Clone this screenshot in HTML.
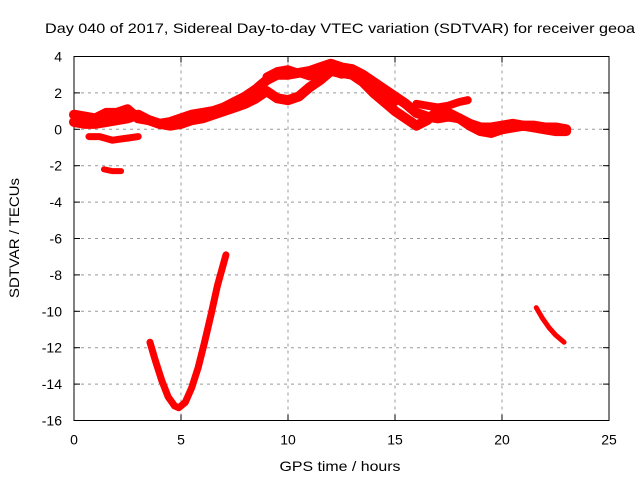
<!DOCTYPE html>
<html><head><meta charset="utf-8"><style>
body{margin:0;background:#fff}
svg text{font-family:"Liberation Sans",sans-serif;font-size:14px;fill:#000}
</style></head><body>
<svg width="640" height="480">
<g id="grid"></g>
<g id="axes"></g>
<g id="series"></g>
<text x="340" y="33" text-anchor="middle" textLength="590" lengthAdjust="spacingAndGlyphs">Day 040 of 2017, Sidereal Day-to-day VTEC variation (SDTVAR) for receiver geoa</text>
<text x="340" y="471" text-anchor="middle" textLength="121" lengthAdjust="spacingAndGlyphs">GPS time / hours</text>
<text transform="translate(19,238) rotate(-90)" text-anchor="middle" textLength="120" lengthAdjust="spacingAndGlyphs">SDTVAR / TECUs</text>
</svg>
<script>
const xTicks=[0,5,10,15,20,25];
const yTicks=[4,2,0,-2,-4,-6,-8,-10,-12,-14,-16];
const bandAx=[0,0.5,1,1.5,2,2.5,3,3.5,4,4.5,5,5.5,6,6.5,7,7.5,8,8.5,9,9.5,10,10.5,11,11.5,12,12.5,13,13.5,14,14.5,15,15.5,16,16.5,17,17.5,18,18.5,19,19.5,20,20.5,21,21.5,22,22.5,23];
const bandAy=[0.8,0.7,0.6,0.9,0.9,1.1,0.6,0.5,0.3,0.4,0.6,0.8,0.9,1.0,1.2,1.5,1.8,2.2,2.7,3.0,3.0,3.1,3.2,3.4,3.6,3.4,3.3,3.0,2.6,2.2,1.8,1.4,0.9,0.7,0.6,0.7,0.6,0.3,0.1,0.1,0.2,0.3,0.2,0.2,0.1,0.1,0.0];
const bandBy=[0.4,0.3,0.3,0.4,0.5,0.6,0.8,0.5,0.3,0.2,0.3,0.5,0.6,0.8,1.0,1.2,1.4,1.7,2.1,1.7,1.6,1.8,2.3,2.7,3.2,3.1,3.0,2.6,2.0,1.5,1.0,0.6,0.2,0.5,1.0,0.9,0.6,0.2,-0.1,-0.2,0.0,0.1,0.2,0.1,0.0,-0.1,-0.1];
const bandCx=[0.7,1.2,1.8,2.4,3.0];
const bandCy=[-0.4,-0.4,-0.6,-0.5,-0.4];
const bandDx=[9.0,9.5,10.0,10.5,11.0,11.5,12.0,12.5,13.0,13.5,14.0,14.5,15.0];
const bandDy=[2.9,3.2,3.3,3.1,2.9,3.1,3.2,3.0,3.2,3.0,2.6,2.1,1.5];
const bandEx=[16.0,16.5,17.0,17.5,18.0,18.4];
const bandEy=[1.4,1.3,1.2,1.3,1.5,1.6];
const blobX=[1.4,1.8,2.2];
const blobY=[-2.2,-2.3,-2.3];
const dipX=[3.55,3.8,4.1,4.4,4.7,4.9,5.2,5.5,5.8,6.1,6.4,6.7,7.1];
const dipY=[-11.7,-12.7,-13.8,-14.7,-15.2,-15.3,-15.0,-14.2,-13.1,-11.7,-10.2,-8.6,-6.9];
const rX=[21.6,21.9,22.2,22.5,22.9];
const rY=[-9.8,-10.4,-10.9,-11.3,-11.7];
const ns="http://www.w3.org/2000/svg";
const X0=74,X1=609,Y0=56.5,Y1=420.5;
function sx(v){return X0+(v-0)/25*(X1-X0);}
function sy(v){return Y0+(4-v)/20*(Y1-Y0);}
function mk(tag,attrs,parent){const e=document.createElementNS(ns,tag);for(const k in attrs)e.setAttribute(k,attrs[k]);parent.appendChild(e);return e;}
const grid=document.getElementById('grid'),axes=document.getElementById('axes'),ser=document.getElementById('series');
xTicks.forEach(t=>{
  if(t>0&&t<25){const l=mk('line',{x1:sx(t),x2:sx(t),y1:Y0,y2:Y1,stroke:'#999','stroke-dasharray':'3,4'},grid);
  
  }
  const tk=mk('text',{x:sx(t),y:Y1+24,'text-anchor':'middle'},axes);tk.textContent=t;
  
  
  mk('line',{x1:sx(t),x2:sx(t),y1:Y1,y2:Y1-6,stroke:'#000'},axes);
  mk('line',{x1:sx(t),x2:sx(t),y1:Y0,y2:Y0+6,stroke:'#000'},axes);
});
yTicks.forEach(t=>{
  if(t<4&&t>-16){const l=mk('line',{x1:X0,x2:X1,y1:sy(t),y2:sy(t),stroke:'#999','stroke-dasharray':'3,4'},grid);
  
  }
  const tk=mk('text',{x:X0-12,y:sy(t)+5,'text-anchor':'end'},axes);tk.textContent=t;
  
  
  mk('line',{x1:X0,x2:X0+6,y1:sy(t),y2:sy(t),stroke:'#000'},axes);
  mk('line',{x1:X1,x2:X1-6,y1:sy(t),y2:sy(t),stroke:'#000'},axes);
});
mk('rect',{x:X0,y:Y0,width:X1-X0,height:Y1-Y0,fill:'none',stroke:'#000'},axes);
function band(xs,ys,w,name){
  const pts=xs.map((x,i)=>sx(x)+','+sy(ys[i])).join(' ');
  const p=mk('polyline',{points:pts,fill:'none',stroke:'#f00','stroke-width':w,'stroke-linejoin':'round','stroke-linecap':'round'},ser);
  
  
}
band(bandAx,bandAy,10,'series-band-a');
band(bandAx,bandBy,10,'series-band-b');
band(bandCx,bandCy,7,'series-band-c');
band(bandDx,bandDy,8,'series-band-d');
band(bandEx,bandEy,8,'series-band-e');
band(blobX,blobY,6,'series-blob');
band(dipX,dipY,7,'series-dip');
band(rX,rY,5,'series-right-segment');
</script>
</body></html>
